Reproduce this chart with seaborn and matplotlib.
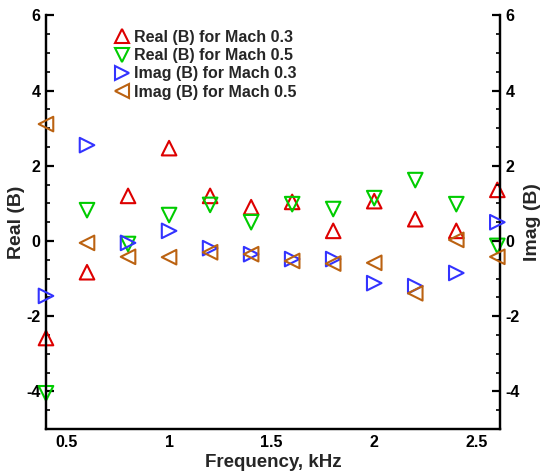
import matplotlib
matplotlib.use("Agg")
import matplotlib.pyplot as plt
from matplotlib.ticker import MultipleLocator, FuncFormatter
import seaborn as sns
import pandas as pd

freq = [0.4, 0.6, 0.8, 1.0, 1.2, 1.4, 1.6, 1.8, 2.0, 2.2, 2.4, 2.6]
real_m03 = [-2.58, -0.83, 1.20, 2.47, 1.20, 0.90, 1.04, 0.27, 1.06, 0.58, 0.27, 1.36]
real_m05 = [-4.05, 0.82, -0.08, 0.69, 0.96, 0.50, 0.98, 0.85, 1.14, 1.62, 0.98, -0.13]
imag_m03 = [-1.46, 2.55, -0.05, 0.27, -0.19, -0.35, -0.48, -0.48, -1.12, -1.20, -0.85, 0.50]
imag_m05 = [3.11, -0.05, -0.42, -0.43, -0.30, -0.35, -0.53, -0.60, -0.58, -1.39, 0.03, -0.42]

labels = ["Real (B) for Mach 0.3", "Real (B) for Mach 0.5",
          "Imag (B) for Mach 0.3", "Imag (B) for Mach 0.5"]
colors = ["#DD0000", "#00CC00", "#3333FF", "#BB6211"]
markers = ["^", "v", ">", "<"]

sns.set_theme(style="white")
plt.rcParams["font.family"] = ["Liberation Sans", "DejaVu Sans"]
plt.rcParams["font.weight"] = "bold"
plt.rcParams["axes.unicode_minus"] = False

fig = plt.figure(figsize=(5.43, 4.74), dpi=100)
ax = fig.add_axes([0.0847, 0.0949, 0.9208 - 0.0847, 0.9675 - 0.0949])
ax2 = ax.twinx()

series = [(real_m03, ax), (real_m05, ax), (imag_m03, ax2), (imag_m05, ax2)]
handles = []
for (vals, a), lab, c, m in zip(series, labels, colors, markers):
    df = pd.DataFrame({"f": freq, "v": vals})
    sns.scatterplot(data=df, x="f", y="v", ax=a, marker=m, s=110,
                    facecolors="none", edgecolor=c, linewidth=1.5,
                    label=lab, legend=False, clip_on=False, zorder=3)
    h = plt.Line2D([], [], linestyle="none", marker=m, markersize=10,
                   markerfacecolor="none", markeredgecolor=c,
                   markeredgewidth=1.5)
    handles.append(h)

for a in (ax, ax2):
    a.set_xlim(0.4, 2.613)
    a.set_ylim(-5, 6)
    a.yaxis.set_major_locator(MultipleLocator(2))
    a.yaxis.set_minor_locator(MultipleLocator(0.5))
    a.spines["top"].set_visible(False)
    for s in ("left", "right", "bottom"):
        a.spines[s].set_linewidth(1.6)
        a.spines[s].set_color("black")
    a.tick_params(axis="both", which="major", direction="in", length=6,
                  width=1.6, labelsize=11.5, colors="black", pad=4)
    a.tick_params(axis="both", which="minor", direction="in", length=3,
                  width=1.2, colors="black")
    a.set_xlabel("")
    a.set_ylabel("")

ax.xaxis.set_major_locator(MultipleLocator(0.5))
ax.xaxis.set_minor_locator(MultipleLocator(0.1))
ax.xaxis.set_major_formatter(FuncFormatter(lambda v, p: f"{v:g}"))
ax.yaxis.set_major_formatter(FuncFormatter(lambda v, p: f"{v:g}"))
ax2.yaxis.set_major_formatter(FuncFormatter(lambda v, p: f"{v:g}"))
ax.tick_params(axis="x", which="both", top=False)
ax.tick_params(axis="y", which="both", right=False)
ax2.tick_params(axis="y", which="both", left=False)
for lbl in ax.get_xticklabels() + ax.get_yticklabels() + ax2.get_yticklabels():
    lbl.set_fontweight("bold")

ax.set_xlabel("Frequency, kHz", fontsize=13.5, fontweight="bold", labelpad=3)
ax.set_ylabel("Real (B)", fontsize=14, fontweight="bold")
ax2.set_ylabel("Imag (B)", fontsize=14, fontweight="bold")
ax.yaxis.set_label_coords(-0.046, 0.5)
ax2.yaxis.set_label_coords(1.052, 0.5)

leg = ax2.legend(handles=handles, labels=labels, loc="upper left",
                 bbox_to_anchor=(0.135, 0.98), frameon=False,
                 prop={"weight": "bold", "size": 11.5},
                 handletextpad=0.25, labelspacing=0.2, handlelength=1.0,
                 borderaxespad=0.0)

fig.savefig("out.png", dpi=100)
